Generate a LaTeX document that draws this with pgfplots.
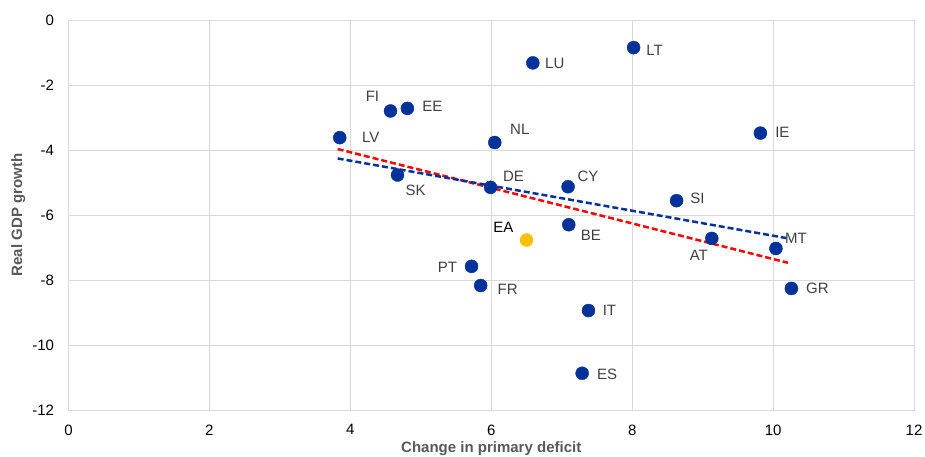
\documentclass[border=0pt]{standalone}
\usepackage{fontspec}
\setmainfont{Liberation Sans}
\usepackage{pgfplots}
\usepackage{pgfplotstable}
\pgfplotsset{compat=1.18}
\definecolor{ecbblue}{HTML}{003299}
\definecolor{ecbyellow}{HTML}{FFC000}
\definecolor{gridgray}{HTML}{D9D9D9}
\definecolor{labgray}{HTML}{404040}
\definecolor{axgray}{HTML}{595959}

% x y label dx dy (label offset from the dot, pt)
\pgfplotstableread{
x     y       lab dx    dy
3.85  -3.62   LV  31    0
4.57  -2.80   FI  -18   15
4.81  -2.72   EE  25    2
4.67  -4.77   SK  18    -15
6.05  -3.77   NL  25    13
5.99  -5.15   DE  23    11
6.59  -1.32   LU  22    -1
8.02  -0.85   LT  21    -3
9.82  -3.48   IE  22    1
7.09  -5.13   CY  20    10
8.63  -5.56   SI  21    2
9.13  -6.72   AT  -13   -17
10.04 -7.03   MT  20    10
10.26 -8.26   GR  26    0
7.10  -6.30   BE  22    -11
5.72  -7.58   PT  -24   -1
5.85  -8.17   FR  27    -4
7.38  -8.94   IT  21    0
7.29  -10.87  ES  25    -1
}\countries
\pgfplotstableread{
x     y      lab dx  dy
6.50  -6.77  EA  -23 13
}\euroarea

\pgfplotsset{
    labelled/.style={
        only marks, mark=*, mark size=6.5pt,
        nodes near coords,
        point meta=explicit symbolic,
        visualization depends on={\thisrow{dx} \as \dx},
        visualization depends on={\thisrow{dy} \as \dy},
        every node near coord/.style={anchor=center, xshift=\dx pt, yshift=\dy pt,
            font=\fontsize{15}{17}\selectfont, text=#1, inner sep=0pt},
    },
}

\begin{document}
\begin{tikzpicture}
\begin{axis}[
    scale only axis,
    width=845.5pt, height=390pt,
    xmin=0, xmax=12, ymin=-12, ymax=0,
    xtick={0,2,...,12}, ytick={-12,-10,...,0},
    grid=major,
    grid style={gridgray, line width=0.9pt},
    axis line style={gridgray, line width=0.9pt},
    tick style={draw=none},
    ticklabel style={font=\fontsize{15}{17}\selectfont, text=black},
    /pgf/number format/assume math mode=true,
    xticklabel style={yshift=-11pt},
    yticklabel style={xshift=-11pt},
    xlabel={Change in primary deficit},
    ylabel={Real GDP growth},
    label style={font=\bfseries\fontsize{15}{17}\selectfont, text=axgray},
    xlabel style={at={(axis description cs:0.5,0)}, anchor=center, yshift=-39pt},
    ylabel style={at={(axis description cs:-0.0595,0.5)}, anchor=center},
]
\addplot[labelled=labgray, mark options={draw=ecbblue, fill=ecbblue}]
    table[x=x, y=y, meta=lab] {\countries};
\addplot[labelled=black, mark options={draw=ecbyellow, fill=ecbyellow}]
    table[x=x, y=y, meta=lab] {\euroarea};
\addplot[red, line width=2.5pt, dash pattern=on 6pt off 3pt, no marks]
    coordinates {(3.82,-3.97) (10.21,-7.47)};
\addplot[ecbblue, line width=2.5pt, dash pattern=on 6pt off 3pt, no marks]
    coordinates {(3.82,-4.26) (10.24,-6.73)};
\end{axis}
\pgfresetboundingbox
\path (-68.5pt,-47pt) rectangle (856.5pt,410pt);
\end{tikzpicture}
\end{document}
